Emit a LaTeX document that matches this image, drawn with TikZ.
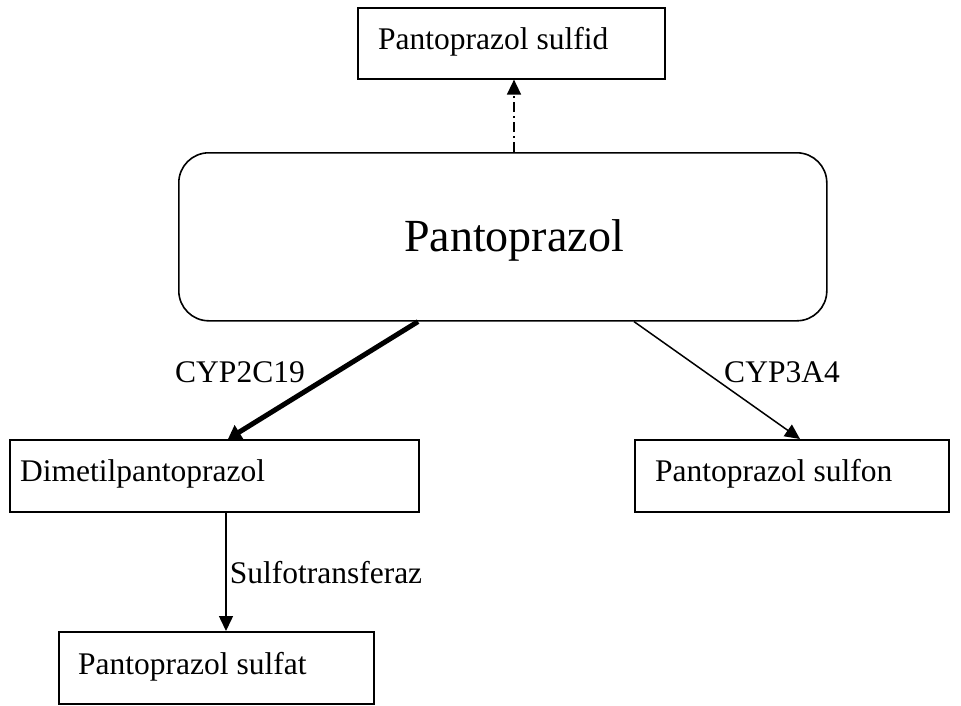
\documentclass[tikz,border=0pt]{standalone}
\usepackage{fontspec}
\setmainfont{Liberation Serif}
\usetikzlibrary{arrows.meta,calc}
\begin{document}
\begin{tikzpicture}[x=1pt,y=1pt,
  box/.style={draw,line width=1.6pt,rectangle,inner sep=0pt,anchor=north west},
  lbl/.style={font=\fontsize{31.5}{36}\selectfont,inner sep=0pt},
  arr/.style={line width=1.5pt,-{Triangle[length=15pt,width=14pt]}},
  thickarr/.style={line width=5pt,-{Triangle[length=13pt,width=16pt]}}]
\useasboundingbox (0,0) rectangle (961,-705);
\node[box,minimum width=307pt,minimum height=71pt] (sulfid) at (357,-7) {};
\node[lbl,anchor=west] (t1) at (378,-42) {Pantoprazol sulfid};
\node[box,rounded corners=30pt,minimum width=648pt,minimum height=168pt] (main) at (178,-152) {};
\node[font=\fontsize{46}{52}\selectfont,inner sep=0pt] (maintext) at (514,-240) {Pantoprazol};
\node[box,minimum width=409pt,minimum height=72pt] (dimetil) at (9,-439) {};
\node[lbl,anchor=west] (t2) at (20,-474) {Dimetilpantoprazol};
\node[box,minimum width=314pt,minimum height=72pt] (sulfon) at (634,-439) {};
\node[lbl,anchor=west] (t3) at (655,-474) {Pantoprazol sulfon};
\node[box,minimum width=315pt,minimum height=72pt] (sulfat) at (58,-631) {};
\node[lbl,anchor=west] (t4) at (78,-667) {Pantoprazol sulfat};
\draw[arr,dash pattern=on 10pt off 4pt on 2pt off 4pt] ($(main.north west)+(336,0)$) -- ($(sulfid.south west)+(157,0)$);
\draw[thickarr] ($(main.south west)+(240,0)$) -- ($(dimetil.north west)+(219,0)$);
\draw[arr] ($(main.south west)+(456,0)$) -- ($(sulfon.north west)+(166,0)$);
\draw[arr] ($(dimetil.south west)+(217,0)$) -- ($(sulfat.north west)+(168,0)$);
\node[lbl] (l1) at (240,-372) {CYP2C19};
\node[lbl] (l2) at (782,-372) {CYP3A4};
\node[lbl] (l3) at (326,-573) {Sulfotransferaz};
\end{tikzpicture}
\end{document}
